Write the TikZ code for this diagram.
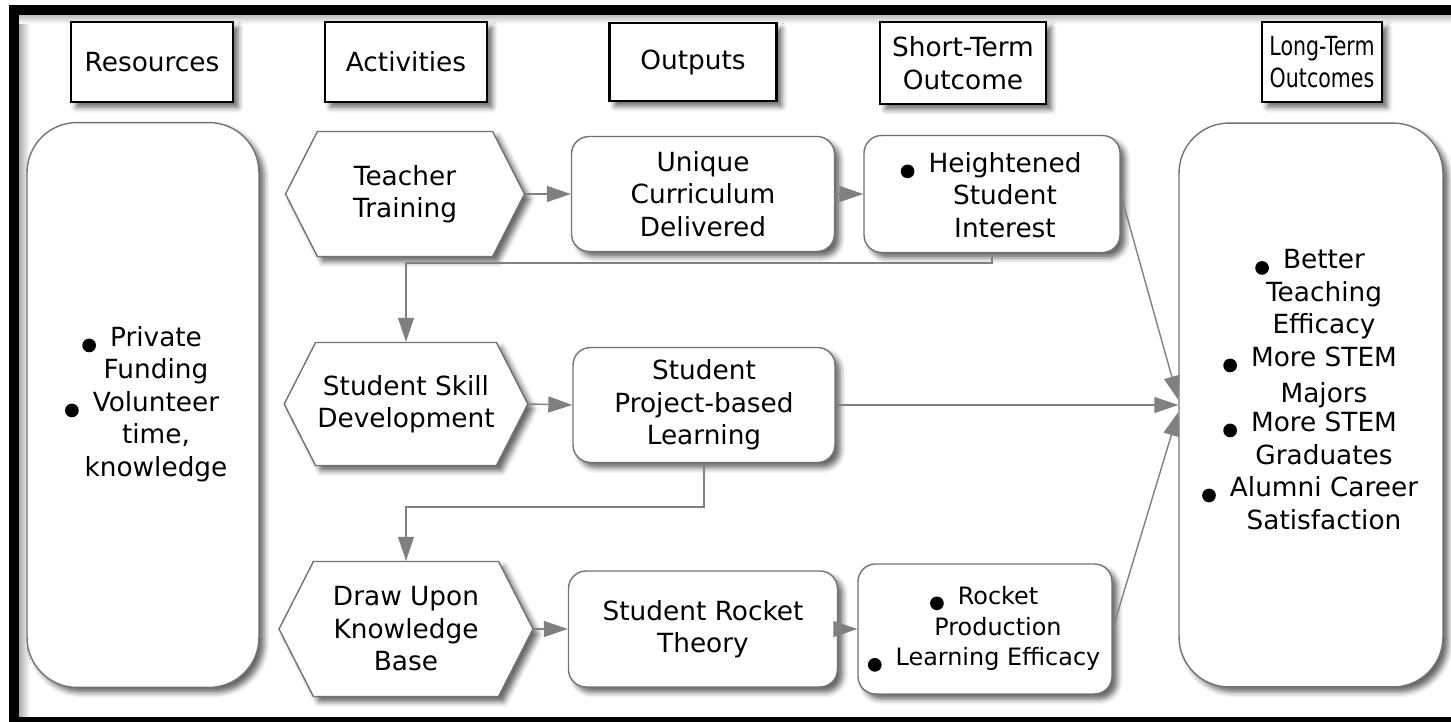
\documentclass[tikz,border=0pt]{standalone}
\usepackage{fontspec}
\setmainfont{DejaVu Sans}
\usepackage{tikz}
\usetikzlibrary{arrows.meta,shapes.symbols,shadows.blur}

% hanging bullet and a centred list that leaves room for it
\newcommand{\bl}{\llap{\tikz[baseline=-0.6pt]\fill (0,0) circle (3.9pt);\hspace{8pt}}}
\newcommand{\blist}[1]{\begin{tabular}{@{\hspace{0.52cm}}c@{}}#1\end{tabular}}

\begin{document}
\begin{tikzpicture}[x=0.02cm,y=-0.02cm,
  font=\fontsize{15}{18.5}\selectfont,
  softshadow/.style={blur shadow={shadow xshift=3pt,shadow yshift=-3pt,shadow blur radius=3pt,shadow opacity=60}},
  headbox/.style={rectangle,draw=black,line width=1.4pt,fill=white,softshadow,align=center,inner sep=1pt},
  roundbox/.style={rectangle,rounded corners=0.35cm,draw=black!55,line width=0.8pt,fill=white,softshadow,align=center,inner sep=1pt},
  bigbox/.style={roundbox,rounded corners=1cm},
  hexbox/.style={shape=signal,signal to=east and west,signal pointer angle=126,draw=black!55,line width=0.8pt,fill=white,softshadow,align=center,inner sep=1pt},
  flowarrow/.style={draw=black!50,line width=0.8pt,-{Triangle[length=0.48cm,width=0.32cm]}}]
\useasboundingbox (0,0) rectangle (1451,722);

% frame with its inner shadow
\shade[left color=black!35,right color=white] (18,15) rectangle (30,717);
\shade[top color=black!25,bottom color=white] (18,15) rectangle (1451,24);
\draw[line width=0.19cm] (1460,10) -- (14,10) -- (14,722) -- (1460,722);

% column heads
\node[headbox,minimum width=3.24cm,minimum height=1.6cm] (hres) at (152,62) {Resources};
\node[headbox,minimum width=3.24cm,minimum height=1.6cm] (hact) at (406,62) {Activities};
\node[headbox,minimum width=3.34cm,minimum height=1.56cm] (hout) at (693,62) {Outputs};
\node[headbox,minimum width=3.32cm,minimum height=1.64cm] (hshort) at (963,63) {Short-Term\\Outcome};
\node[headbox,minimum width=2.4cm,minimum height=1.6cm] (hlong) at (1322,62) {\scalebox{0.78}[1]{Long-Term}\\\scalebox{0.78}[1]{Outcomes}};

% resources and long-term outcomes
\node[bigbox,minimum width=4.64cm,minimum height=11.3cm] (res) at (143,405) {\blist{\bl Private\\Funding\\\bl Volunteer\\time,\\knowledge}};
\node[bigbox,minimum width=5.28cm,minimum height=11.28cm] (longterm) at (1311,405) {\blist{\bl Better\\Teaching\\Efficacy\\\bl More STEM\\[2pt]Majors\\[-2pt]\bl More STEM\\Graduates\\\bl Alumni Career\\Satisfaction\\[0.5cm]}};

% activities
\node[hexbox,minimum width=4.78cm,minimum height=2.5cm] (teach) at (405,194) {Teacher\\Training};
\node[hexbox,minimum width=4.8cm,minimum height=2.46cm] (skill) at (406,404) {Student Skill\\Development};
\node[hexbox,minimum width=5.08cm,minimum height=2.7cm] (know) at (406,629) {Draw Upon\\Knowledge\\Base};

% outputs
\node[roundbox,minimum width=5.26cm,minimum height=2.3cm] (unique) at (703,194) {Unique\\Curriculum\\Delivered};
\node[roundbox,minimum width=5.24cm,minimum height=2.3cm] (project) at (704,405) {Student\\Project-based\\Learning};
\node[roundbox,minimum width=5.38cm,minimum height=2.32cm] (theory) at (703,629) {Student Rocket\\Theory};

% short-term outcomes
\node[roundbox,minimum width=5.12cm,minimum height=2.34cm] (height) at (992,194) {\blist{\bl Heightened\rule{0pt}{18pt}\\Student\\Interest}};
\node[roundbox,minimum width=5.08cm,minimum height=2.6cm,font=\fontsize{13.6}{17.5}\selectfont] (rocket) at (985,629) {\blist{\bl Rocket\\Production\\\bl Learning Efficacy}};

% connectors
\draw[flowarrow] (teach.east) -- (unique.west);
\draw[flowarrow] (unique.east) -- (height.west);
\draw[flowarrow] (height.south) -- ++(0,10) -| (skill.north);
\draw[flowarrow] (skill.east) -- (project.west);
\draw[flowarrow] (project.south) -- ++(0,44) -| (know.north);
\draw[flowarrow] (know.east) -- (theory.west);
\draw[flowarrow] (theory.east) -- (rocket.west);
\draw[flowarrow] (height.east) -- ([yshift=0.1cm]longterm.west);
\draw[flowarrow] (project.east) -- (longterm.west);
\draw[flowarrow] (rocket.east) -- ([yshift=-0.14cm]longterm.west);
\end{tikzpicture}
\end{document}
